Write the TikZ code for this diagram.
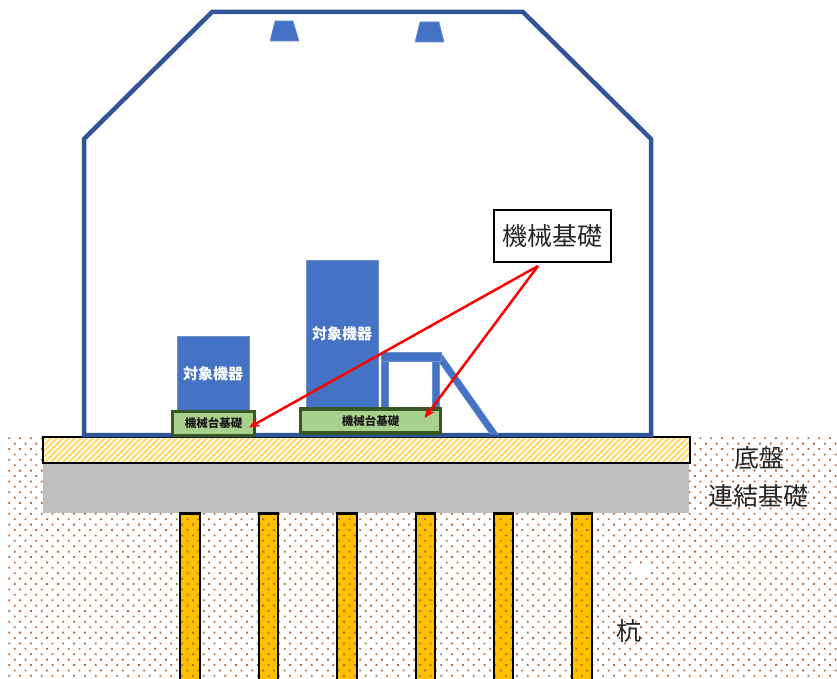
\documentclass[tikz,border=0pt]{standalone}
\usepackage{fontspec}
\setmainfont{Noto Sans CJK JP}
\usetikzlibrary{arrows.meta}
\definecolor{hull}{HTML}{2F5597}
\definecolor{equip}{HTML}{4472C4}
\definecolor{equipedge}{HTML}{6F8FCB}
\definecolor{padfill}{HTML}{A9D18E}
\definecolor{padedge}{HTML}{385723}
\definecolor{soil}{HTML}{B06C40}
\definecolor{hatch}{HTML}{FFD966}
\definecolor{hatchbg}{HTML}{FFFDF5}
\definecolor{pilefill}{HTML}{FFC000}
\definecolor{tie}{HTML}{BFBFBF}
\tikzset{
  sized/.style n args={2}{minimum width=#1, minimum height=#2, inner sep=0pt, outer sep=0pt},
  equipbox/.style={fill=equip, draw=equipedge, line width=0.8pt, text=white, font=\bfseries\fontsize{15}{15}\selectfont},
  padbox/.style={fill=padfill, draw=padedge, line width=3.4pt, text=black!90, font=\bfseries\fontsize{11.5}{12}\selectfont},
  caption/.style={inner sep=0pt, text=black!85, font=\fontsize{25}{25}\selectfont},
  pointer/.style={draw=red, line width=2.5pt, -{Stealth[length=11pt,width=9pt]}},
  steel/.style={fill=equip, draw=equipedge, line width=0.6pt},
  lamp/.style={fill=equip, draw=equipedge, line width=0.6pt},
  pileline/.style={draw=black, line width=2.6pt},
}
\begin{document}
\begin{tikzpicture}[x=1pt,y=-1pt]
\useasboundingbox (0,0) rectangle (837,679);
% piles (fill)
\foreach \a/\b in {180/200,259/278,337/357,416/435,494/513,572/592}
  \fill[pilefill] (\a,513) rectangle (\b,682);
% soil dots
\fill[soil]
  \foreach \k in {0,...,76} \foreach \m in {0,...,22} {
    (8.4+10.8*\k,437.3+10.8*\m) rectangle ++(1.8,1.8)
    (13.8+10.8*\k,442.7+10.8*\m) rectangle ++(1.8,1.8)
  };
\fill[white] (632,565) rectangle (650,577);
% tie foundation
\node[sized={646pt}{50pt}, fill=tie, anchor=north west] (tiebeam) at (43,463) {};
% slab with hatching
\begin{scope}
  \clip (43,437) rectangle (690,463);
  \fill[hatchbg] (43,437) rectangle (690,463);
  \foreach \k in {0,...,110}
    \draw[hatch, line width=1.8pt] (18+6*\k,465) -- (48+6*\k,435);
\end{scope}
\node[sized={647pt}{26pt}, draw=black, line width=2.5pt, anchor=north west] (slab) at (43,437) {};
% pile outlines
\foreach \a/\b in {180/200,259/278,337/357,416/435,494/513,572/592}
  \draw[pileline] (\a,683) -- (\a,513.5) -- (\b,513.5) -- (\b,683);
% hull
\draw[hull, line width=4.5pt, line join=miter] (84,435) -- (84,139) -- (212,12) -- (523,12) -- (651,139) -- (651,435) -- cycle;
% lamps
\fill[lamp] (275,21) -- (293,21) -- (299,41) -- (270,41) -- cycle;
\fill[lamp] (420,22) -- (439,22) -- (444,42) -- (415,42) -- cycle;
% equipment
\node[equipbox, sized={72pt}{75pt}, anchor=north west] (eqa) at (177,336) {対象機器};
\node[equipbox, sized={72pt}{148pt}, anchor=north west] (eqb) at (306,260) {対象機器};
% steel frame
\fill[steel] (441,353) -- (498,434) -- (490,434) -- (439,362) -- cycle;
\fill[steel] (381,361) rectangle (388,408);
\fill[steel] (432,361) rectangle (439,408);
\fill[steel] (381,352) rectangle (441,361);
% machine bases
\node[padbox, sized={82pt}{24pt}, anchor=north west] (pada) at (172.5,411.5) {機械台基礎};
\node[padbox, sized={140pt}{24pt}, anchor=north west] (padb) at (300.5,409) {機械台基礎};
% captions
\node[draw=black, line width=1.2pt, fill=white, sized={117pt}{52pt}, anchor=north west, font=\fontsize{25}{25}\selectfont, text=black!85] (mainlabel) at (494,210) {機械基礎};
\node[caption] (slabtext) at (759,458) {底盤};
\node[caption] (tietext) at (758.5,496) {連結基礎};
\node[caption] (piletext) at (629,631) {杭};
% pointers
\coordinate (src) at (538,266);
\coordinate (ta) at ([xshift=-5.5pt,yshift=-4pt]pada.east);
\coordinate (tb) at ([xshift=-16pt,yshift=3pt]padb.east);
\draw[pointer] (src) -- (ta);
\draw[pointer] (src) -- (tb);
\end{tikzpicture}
\end{document}
